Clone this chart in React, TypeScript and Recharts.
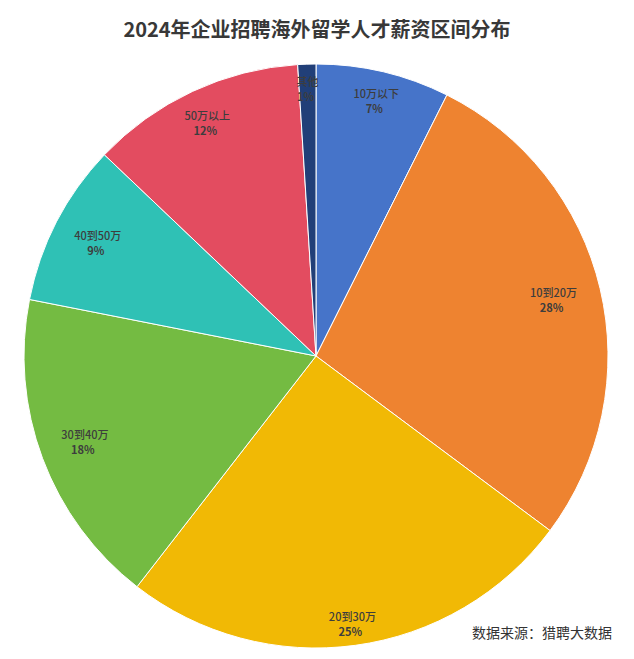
import { PieChart, Pie, Cell } from "recharts"

const categories = ["10万以下", "10到20万", "20到30万", "30到40万", "40到50万", "50万以上", "其他"]
const shares = [7.4, 27.8, 25.3, 17.6, 9.0, 11.9, 1.0]
const COLORS = ["#4674C9", "#EE8330", "#F1B905", "#74BB42", "#2FC1B5", "#E34C60", "#213F78"]

const data = categories.map((name, i) => ({ name, value: shares[i] }))

const RAD = Math.PI / 180

function renderLabel(props: any) {
  const { cx, cy, midAngle, name, percent } = props
  const ux = Math.cos(-midAngle * RAD)
  const uy = Math.sin(-midAngle * RAD)
  // labels sit inside the rim, pulled in more on the sides
  const r = 271 - 27 * Math.abs(ux) + 3 * uy
  const x = cx + r * ux
  const y = cy + r * uy
  return (
    <text x={x} y={y - 3} textAnchor="middle" fill="#3d3d3d" fontSize={11} fontFamily="'Noto Sans CJK SC', sans-serif">
      <tspan x={x} fontWeight={500}>{name}</tspan>
      <tspan x={x - 2} dy={15} fontWeight="bold">{Math.round(percent * 100)}%</tspan>
    </text>
  )
}

export default function App() {
  return (
    <div style={{ position: "absolute", left: 0, top: 0, width: 634, height: 659, background: "#fff", fontFamily: "'Noto Sans CJK SC', sans-serif" }}>
      <div style={{ position: "absolute", top: 14, left: 0, width: 634, textAlign: "center", fontSize: 20, fontWeight: "bold", color: "#383838", lineHeight: "30px" }}>
        2024年企业招聘海外留学人才薪资区间分布
      </div>
      <PieChart width={634} height={659} margin={{ top: 0, right: 0, bottom: 0, left: 0 }}>
        <Pie
          data={data}
          dataKey="value"
          nameKey="name"
          cx={316}
          cy={356}
          outerRadius={292}
          startAngle={90}
          endAngle={-270}
          stroke="#fff"
          strokeWidth={1}
          labelLine={false}
          label={renderLabel}
          isAnimationActive={false}
        >
          {data.map((_, i) => (
            <Cell key={`cell-${i}`} fill={COLORS[i]} />
          ))}
        </Pie>
      </PieChart>
      <div style={{ position: "absolute", top: 622, left: 472, fontSize: 14, color: "#333", lineHeight: "20px" }}>
        数据来源：猎聘大数据
      </div>
    </div>
  )
}
